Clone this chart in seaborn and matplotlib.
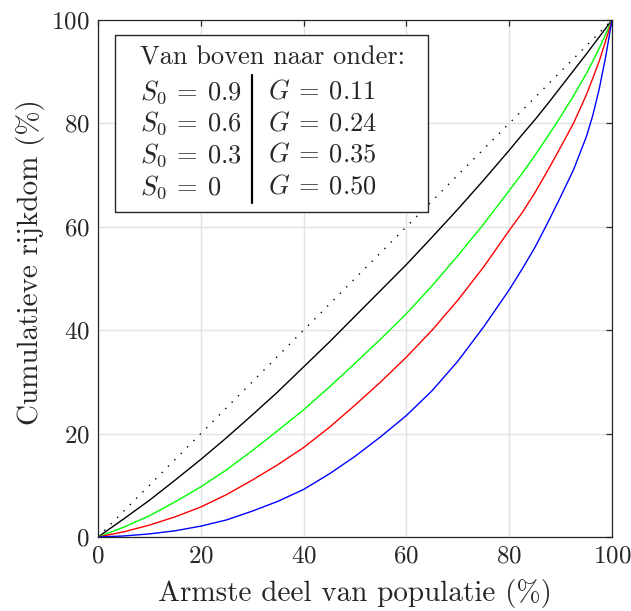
import matplotlib
matplotlib.use("Agg")
import matplotlib.pyplot as plt
import seaborn as sns
import pandas as pd
from matplotlib.lines import Line2D
from matplotlib.patches import Rectangle

# ---- data ----
population = [0, 5, 10, 15, 20, 25, 30, 35, 40, 45, 50, 55, 60, 65, 70, 75,
              80, 82.5, 85, 87.5, 90, 92.5, 95, 96.25, 97.5, 98.75, 100]
wealth_s09 = [0, 3.5, 7.1, 11.0, 15.0, 19.2, 23.6, 28.1, 32.9, 37.7, 42.7,
              47.7, 52.7, 58.0, 63.4, 69.0, 74.8, 77.8, 80.7, 83.8, 87.0,
              90.2, 93.4, 95.05, 96.7, 98.35, 100]
wealth_s06 = [0, 1.9, 4.1, 6.8, 9.7, 13.0, 16.7, 20.6, 24.6, 29.0, 33.6,
              38.3, 43.2, 48.6, 54.4, 60.5, 67.0, 70.3, 73.8, 77.5, 81.3,
              85.3, 89.6, 92.0, 94.5, 97.2, 100]
wealth_s03 = [0, 1.0, 2.3, 3.9, 5.8, 8.2, 11.0, 14.0, 17.3, 21.2, 25.5,
              30.0, 34.8, 40.0, 45.8, 52.2, 59.3, 62.7, 66.6, 70.9, 75.4,
              80.0, 85.5, 88.7, 92.0, 95.9, 100]
wealth_s00 = [0, 0.2, 0.6, 1.2, 2.1, 3.3, 5.0, 6.9, 9.2, 12.2, 15.6,
              19.4, 23.5, 28.3, 34.0, 40.6, 47.8, 51.8, 56.0, 60.8, 65.8,
              71.0, 77.4, 81.5, 86.6, 92.8, 100]
equality_x = [0, 100]
equality_y = [0, 100]

series_colors = ["#000000", "#00ff00", "#ff0000", "#0000ff"]
s0_labels = [r"$S_0\:=\:0.9$", r"$S_0\:=\:0.6$", r"$S_0\:=\:0.3$", r"$S_0\:=\:0$"]
g_labels = [r"$G\:=\:0.11$", r"$G\:=\:0.24$", r"$G\:=\:0.35$", r"$G\:=\:0.50$"]
legend_title = "Van boven naar onder:"
x_ticks = [0, 20, 40, 60, 80, 100]
y_ticks = [0, 20, 40, 60, 80, 100]
x_label = "Armste deel van populatie (%)"
y_label = "Cumulatieve rijkdom (%)"

sns.set_style("white")
plt.rcParams["font.family"] = "serif"
plt.rcParams["font.serif"] = ["cmr10"]
plt.rcParams["mathtext.fontset"] = "cm"
plt.rcParams["axes.formatter.use_mathtext"] = True
plt.rcParams["axes.unicode_minus"] = False

fig = plt.figure(figsize=(6.31, 6.11), dpi=100)
ax = fig.add_axes([98 / 631, (611 - 537) / 611, 514 / 631, 517 / 611])

# equality line
sns.lineplot(x=equality_x, y=equality_y, ax=ax, color="black", lw=1.0,
             linestyle=(0, (1, 5.5)), legend=False)

series = [wealth_s09, wealth_s06, wealth_s03, wealth_s00]
for vals, col in zip(series, series_colors):
    df = pd.DataFrame({"x": population, "y": vals})
    sns.lineplot(data=df, x="x", y="y", ax=ax, color=col, lw=1.0,
                 sort=False, legend=False)

ax.set_xlim(0, 100)
ax.set_ylim(0, 100)
ax.set_xticks(x_ticks)
ax.set_yticks(y_ticks)
ax.grid(True, color="#e2e2e2", lw=1.0)
ax.set_axisbelow(True)
for sp in ax.spines.values():
    sp.set_color("#262626")
    sp.set_linewidth(0.9)
    sp.set_visible(True)
ax.tick_params(direction="in", top=True, right=True, length=4, width=0.9,
               color="#262626", labelsize=18, labelcolor="#262626", pad=6)

ax.set_xlabel(x_label, fontsize=21, color="#262626")
ax.set_ylabel(y_label, fontsize=21, color="#262626")
ax.xaxis.label.set_va("center")
ax.yaxis.label.set_va("center")
ax.xaxis.set_label_coords(0.5, -0.11)
ax.yaxis.set_label_coords(-0.132, 0.532)

# annotation box
ax.add_patch(Rectangle((0.033, 0.629), 0.609, 0.342, transform=ax.transAxes,
                       facecolor="white", edgecolor="#262626", lw=1.0, zorder=5))
ax.text(0.081, 0.927, legend_title, transform=ax.transAxes, fontsize=19,
        va="center", ha="left", zorder=6)
row_y = [0.861, 0.800, 0.739, 0.677]
for yy, s, g in zip(row_y, s0_labels, g_labels):
    ax.text(0.081, yy, s, transform=ax.transAxes, fontsize=19, va="center",
            ha="left", zorder=6)
    ax.text(0.331, yy, g, transform=ax.transAxes, fontsize=19, va="center",
            ha="left", zorder=6)
ax.add_line(Line2D([0.300, 0.300], [0.646, 0.894], transform=ax.transAxes,
                   color="black", lw=1.6, zorder=6))

fig.savefig("out.png", dpi=100)
